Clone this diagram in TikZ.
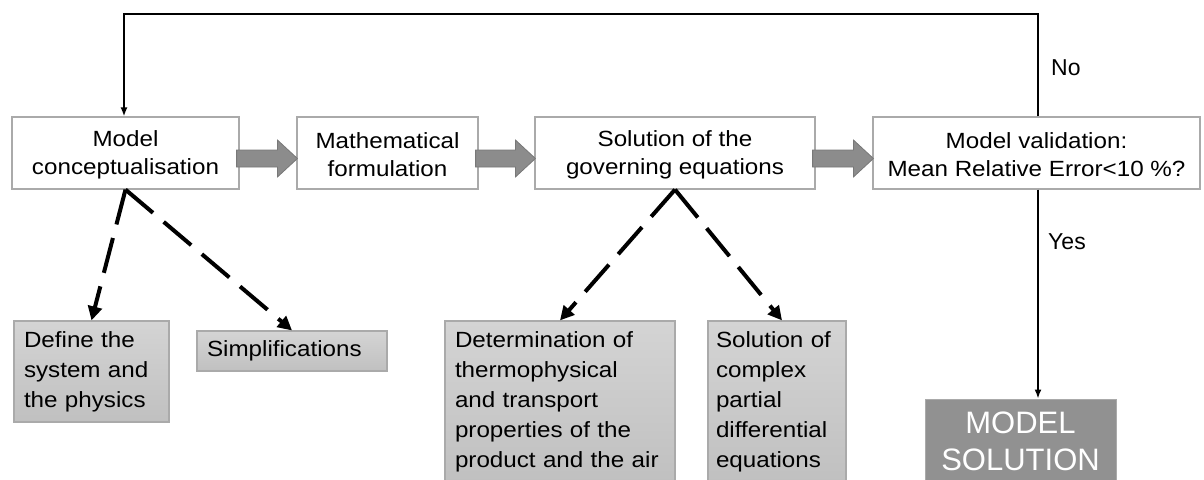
\documentclass[tikz,border=0pt]{standalone}
\usepackage{fontspec}
\setmainfont{Liberation Sans}[FakeStretch=1.1]
\newfontfamily\labelfont{Liberation Sans}
\usetikzlibrary{arrows.meta,calc}
\definecolor{boxline}{RGB}{170,170,170}
\definecolor{arrfill}{RGB}{140,140,140}
\definecolor{arrline}{RGB}{120,120,120}
\definecolor{solfill}{RGB}{145,145,145}
\definecolor{graytop}{RGB}{212,212,212}
\definecolor{graybot}{RGB}{192,192,192}
\begin{document}
\begin{tikzpicture}[x=1pt,y=-1pt,
 stepbox/.style={draw=boxline, line width=1.2pt, fill=white, align=center, font=\fontsize{22}{28}\selectfont, inner sep=0pt, minimum height=72pt},
 graybox/.style={draw=boxline, line width=1.2pt, top color=graytop, bottom color=graybot, align=left, font=\fontsize{22}{30}\selectfont, inner xsep=10pt, inner ysep=0pt},
 dasharr/.style={line width=4pt, dash pattern=on 36pt off 14pt, -{Triangle[length=14pt,width=14pt]}},
 fb/.style={line width=1.6pt},
 lbl/.style={font=\labelfont\fontsize{23}{28}\selectfont, anchor=west, inner sep=0pt},
 blockarr/.style={fill=arrfill, draw=arrline, line width=0.8pt}
]
\path[use as bounding box] (0,0) rectangle (1204,479);
\clip (0,0) rectangle (1204,479);
\fill[white] (0,0) rectangle (1204,479);

% main process boxes
\node[stepbox, minimum width=227pt] (b1) at (125.5,153) {\strut Model\\conceptualisation};
\node[stepbox, minimum width=181pt] (b2) at (387.5,153) {\strut Mathematical\\formulation};
\node[stepbox, minimum width=280pt] (b3) at (675,153) {\strut Solution of the\\governing equations};
\node[stepbox, minimum width=327pt] (b4) at (1036.5,153) {\strut Model validation:\\Mean Relative Error<10 \%?};

% sub boxes
\node[graybox, text width=135pt, minimum height=101pt] (def) at (91.5,371.5) {Define the\\system and\\the physics};
\node[graybox, text width=170pt, minimum height=40pt] (simp) at (292,351) {Simplifications};
\node[graybox, text width=210pt, minimum height=162pt] (det) at (560,402) {Determination of\\thermophysical\\and transport\\properties of the\\product and the air};
\node[graybox, text width=122pt, inner xsep=8pt, minimum height=162pt] (sol) at (777,402) {Solution of\\complex\\partial\\differential\\equations};

\node[fill=solfill, draw=boxline, line width=1pt, text=white, minimum width=191pt, minimum height=85pt, align=center, inner sep=0pt, font=\labelfont\fontsize{31}{37}\selectfont] (ms) at (1020.5,441.5) {MODEL\\SOLUTION};

% block arrows
\foreach \a/\b in {b1/b2,b2/b3,b3/b4}{
  \draw[blockarr] let \p1=(\a.east), \p2=(\b.west) in
    (\x1-3pt,\y1+3pt) -- (\x2-19pt,\y1+3pt) -- (\x2-19pt,\y1+13pt) -- (\x2+1pt,\y1-5.5pt)
    -- (\x2-19pt,\y1-24pt) -- (\x2-19pt,\y1-14pt) -- (\x1-3pt,\y1-14pt) -- cycle;
}

% feedback loop
\coordinate (tl) at (124,14);
\coordinate (tr) at (1038,14);
\draw[fb,-{Latex[length=9pt,width=7pt]}] (b4.north -| tr) -- (tr) -- (tl) -- (b1.north -| tl);
\node[lbl] (no) at (1051,68) {No};

\coordinate (vx) at (1038,300);
\draw[fb,-{Latex[length=9pt,width=7pt]}] (b4.south -| vx) -- (ms.north -| vx);
\node[lbl] (yes) at (1048,242) {Yes};

% dashed arrows
\draw[dasharr] (b1.south) -- (def.north);
\draw[dasharr] (b1.south) -- (simp.north);
\draw[dasharr] (b3.south) -- (det.north);
\draw[dasharr] (b3.south) -- ([xshift=5pt]sol.north);
\end{tikzpicture}
\end{document}
